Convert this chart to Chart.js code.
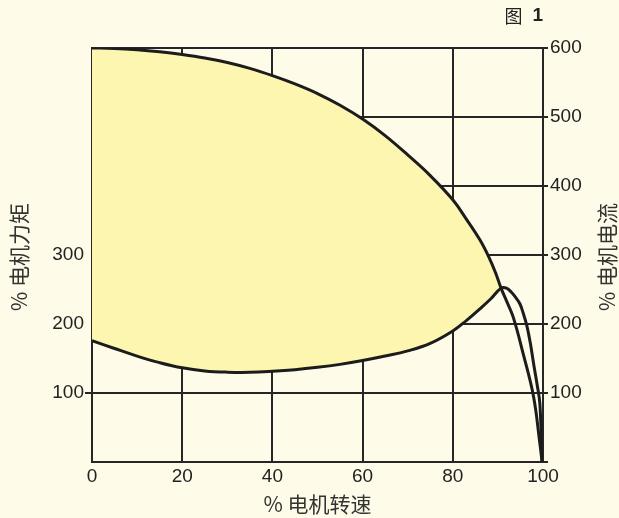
<!DOCTYPE html>
<html>
<head>
<meta charset="utf-8">
<script src="https://cdn.jsdelivr.net/npm/chart.js@4"></script>
<style>
  html, body { margin: 0; padding: 0; background: #fefce9; }
  #wrap { width: 619px; height: 518px; }
</style>
</head>
<body>
<div id="wrap"><canvas id="chart"></canvas></div>
<script>
// % speed / % current (upper curve)
const currentSpeed = [0, 5, 10, 15, 20, 25, 30, 35, 40, 45, 50, 55, 60, 65, 70, 75, 80, 83, 86, 88, 89.5, 90.7, 92, 93.4, 95.6, 97.9, 99.3, 99.8];
const currentValue = [600, 599.4, 597.5, 594.5, 590.5, 585.5, 579, 570.5, 560, 548, 534, 517, 497, 473, 445, 415, 380, 352, 322, 297, 274, 252, 232, 210, 157, 95, 27, 0];

// % speed / % torque (lower curve)
const torqueSpeed = [0, 5, 10, 15, 20, 25, 30, 35, 40, 45, 50, 55, 60, 65, 70, 75, 80, 83, 86, 88.5, 90.7, 91.9, 93, 94, 94.9, 95.6, 96.4, 97.2, 97.9, 98.7, 99.3, 99.8];
const torqueValue = [176, 164.5, 153.5, 144, 136.5, 132, 130.2, 130, 131.5, 133.8, 137.2, 141.5, 147, 153.5, 161, 172, 190, 205, 222, 237, 252, 252, 246, 238, 229, 216, 198, 172, 143, 112, 85, 0];

// the two curves meet here; the yellow band is only left of it
const meetSpeed = 90.7;

const speedTicks = [0, 20, 40, 60, 80, 100];
const torqueTicks = [100, 200, 300];
const currentTicks = [100, 200, 300, 400, 500, 600];

function toPoints(xs, ys, maxX) {
  const pts = [];
  for (let i = 0; i < xs.length; i++) {
    if (maxX === undefined || xs[i] <= maxX) pts.push({ x: xs[i], y: ys[i] });
  }
  return pts;
}

const ink = "#262626";
const labelFont = { family: "'Liberation Sans', Arial, sans-serif", size: 19 };

const textPlugin = {
  id: "texts",
  afterDraw(chart) {
    const ctx = chart.ctx;
    const a = chart.chartArea;
    ctx.save();
    ctx.fillStyle = "#333";
    ctx.font = "21px 'Noto Sans CJK SC', 'Liberation Sans', sans-serif";
    ctx.textAlign = "center";
    ctx.textBaseline = "middle";
    // bottom title
    ctx.fillText("% 电机转速", (a.left + a.right) / 2, 504);
    // left title
    ctx.save();
    ctx.translate(19, 257);
    ctx.rotate(-Math.PI / 2);
    ctx.fillText("% 电机力矩", 0, 0);
    ctx.restore();
    // right title
    ctx.save();
    ctx.translate(607, 257);
    ctx.rotate(-Math.PI / 2);
    ctx.fillText("% 电机电流", 0, 0);
    ctx.restore();
    // figure label
    ctx.textAlign = "right";
    ctx.fillStyle = "#222";
    ctx.font = "bold 19px 'Liberation Sans', Arial, sans-serif";
    ctx.fillText("1", 543, 16);
    const w = ctx.measureText("1").width;
    ctx.font = "18px 'Noto Sans CJK SC', sans-serif";
    ctx.fillText("图", 543 - w - 10, 16);
    ctx.restore();
  }
};

const curve = { showLine: true, pointRadius: 0, tension: 0.4, fill: false };

new Chart(document.getElementById("chart"), {
  type: "scatter",
  data: {
    datasets: [
      Object.assign({}, curve, {
        label: "band",
        data: toPoints(currentSpeed, currentValue, meetSpeed),
        borderWidth: 0,
        backgroundColor: "#fdf6b0",
        fill: 1
      }),
      Object.assign({}, curve, {
        label: "band base",
        data: toPoints(torqueSpeed, torqueValue, meetSpeed),
        borderWidth: 0
      }),
      Object.assign({}, curve, {
        label: "电流",
        data: toPoints(currentSpeed, currentValue),
        borderColor: "#1c1c1c",
        borderWidth: 3
      }),
      Object.assign({}, curve, {
        label: "力矩",
        data: toPoints(torqueSpeed, torqueValue),
        borderColor: "#1c1c1c",
        borderWidth: 3
      })
    ]
  },
  options: {
    responsive: true,
    maintainAspectRatio: false,
    animation: false,
    layout: { padding: { top: 48, left: 0, right: 0, bottom: 0 } },
    plugins: {
      legend: { display: false },
      tooltip: { enabled: false },
      filler: { drawTime: "beforeDatasetsDraw" }
    },
    scales: {
      x: {
        type: "linear",
        min: 0,
        max: 100,
        afterBuildTicks: (s) => { s.ticks = speedTicks.map(v => ({ value: v })); },
        ticks: { color: "#222", font: labelFont, padding: 3 },
        grid: { color: ink, lineWidth: 2, drawTicks: false },
        border: { color: ink, width: 2 },
        afterFit: (s) => { s.height = 56; }
      },
      y: {
        position: "left",
        min: 0,
        max: 600,
        afterBuildTicks: (s) => { s.ticks = [0].concat(currentTicks).map(v => ({ value: v })); },
        ticks: {
          color: "#222",
          font: labelFont,
          padding: 1,
          callback: (v) => torqueTicks.includes(v) ? String(v) : ""
        },
        grid: {
          color: ink,
          lineWidth: 2,
          tickLength: 7,
          tickColor: (c) => (c.tick && c.tick.value === 100) ? ink : "rgba(0,0,0,0)"
        },
        border: { color: ink, width: 2 },
        afterFit: (s) => { s.width = 92; }
      },
      y2: {
        position: "right",
        min: 0,
        max: 600,
        afterBuildTicks: (s) => { s.ticks = [0].concat(currentTicks).map(v => ({ value: v })); },
        ticks: {
          color: "#222",
          font: labelFont,
          padding: 2,
          callback: (v) => currentTicks.includes(v) ? String(v) : ""
        },
        grid: { drawOnChartArea: false, color: ink, lineWidth: 2, tickLength: 5 },
        border: { color: ink, width: 2 },
        afterFit: (s) => { s.width = 76; }
      }
    }
  },
  plugins: [textPlugin]
});
</script>
</body>
</html>
